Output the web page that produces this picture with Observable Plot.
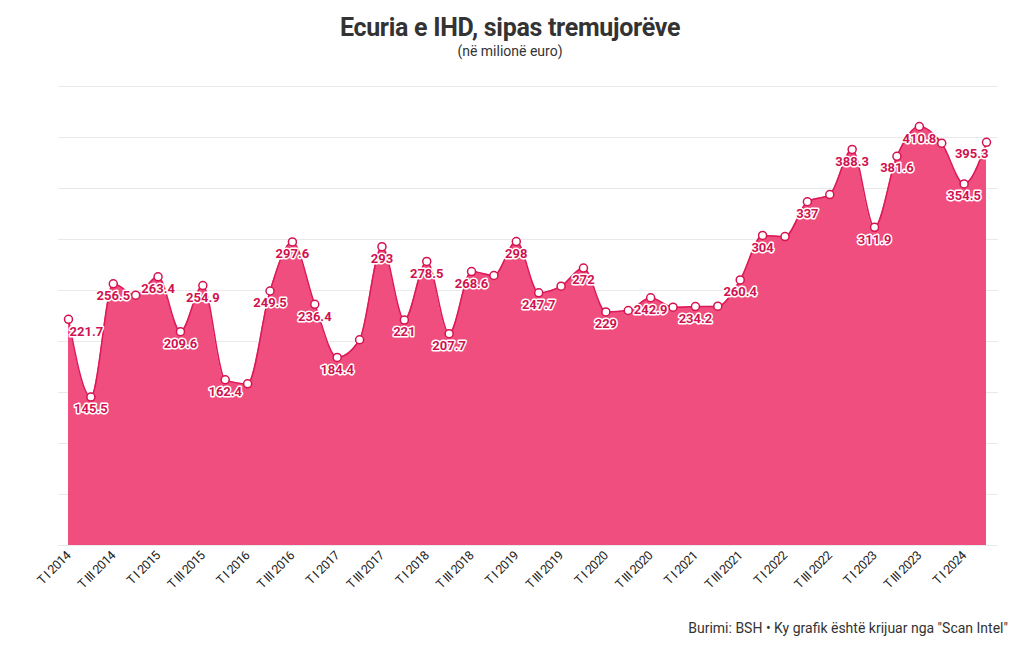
<!DOCTYPE html>
<html><head><meta charset="utf-8">
<script src="https://cdn.jsdelivr.net/npm/d3@7"></script>
<script src="https://cdn.jsdelivr.net/npm/@observablehq/plot@0.6"></script>
<style>
body{margin:0;background:#fff;width:1020px;height:650px;overflow:hidden;font-family:Roboto,sans-serif;color:#333}
#title{font:700 25px Roboto,sans-serif;text-align:center;line-height:28px;padding-top:14px;color:#333;letter-spacing:-0.3px}
#sub{font:400 14px Roboto,sans-serif;text-align:center;line-height:18px;color:#333}
#chart{height:555px}
#cap{font:400 14px Roboto,sans-serif;text-align:right;padding-right:12px;margin-top:5px;color:#333}
</style></head><body>
<div id="title">Ecuria e IHD, sipas tremujorëve</div>
<div id="sub">(në milionë euro)</div>
<div id="chart"></div>
<div id="cap">Burimi: BSH • Ky grafik është krijuar nga "Scan Intel"</div>
<script>
const quarters = [
 "T I 2014","T II 2014","T III 2014","T IV 2014",
 "T I 2015","T II 2015","T III 2015","T IV 2015",
 "T I 2016","T II 2016","T III 2016","T IV 2016",
 "T I 2017","T II 2017","T III 2017","T IV 2017",
 "T I 2018","T II 2018","T III 2018","T IV 2018",
 "T I 2019","T II 2019","T III 2019","T IV 2019",
 "T I 2020","T II 2020","T III 2020","T IV 2020",
 "T I 2021","T II 2021","T III 2021","T IV 2021",
 "T I 2022","T II 2022","T III 2022","T IV 2022",
 "T I 2023","T II 2023","T III 2023","T IV 2023",
 "T I 2024","T II 2024"
];
const values = [
 221.7,145.5,256.5,245.4,
 263.4,209.6,254.9,162.4,
 158.5,249.5,297.6,236.4,
 184.4,201.7,293,221,
 278.5,207.7,268.6,264.7,
 298,247.7,254.2,272,
 229,230.4,242.9,233.6,
 234.2,234.6,260.4,304,
 302.9,337,344.1,388.3,
 311.9,381.6,410.8,394.4,
 354.5,395.3
];
const labels = [
 "221.7","145.5","256.5",null,
 "263.4","209.6","254.9","162.4",
 null,"249.5","297.6","236.4",
 "184.4",null,"293","221",
 "278.5","207.7","268.6",null,
 "298","247.7",null,"272",
 "229",null,"242.9",null,
 "234.2",null,"260.4","304",
 null,"337",null,"388.3",
 "311.9","381.6","410.8",null,
 "354.5","395.3"
];
const tickLabels = [
 "T I 2014","T III 2014","T I 2015","T III 2015","T I 2016","T III 2016",
 "T I 2017","T III 2017","T I 2018","T III 2018","T I 2019","T III 2019",
 "T I 2020","T III 2020","T I 2021","T III 2021","T I 2022","T III 2022",
 "T I 2023","T III 2023","T I 2024"
];
const yGrid = [0,50,100,150,200,250,300,350,400,450];

const data = quarters.map((q,i)=>({q, i, v: values[i], label: labels[i]}));
const labeled = data.filter(d=>d.label!==null);
const lastI = quarters.length-1;
const first = labeled.filter(d=>d.i===0);
const last = labeled.filter(d=>d.i===lastI);
const middle = labeled.filter(d=>d.i!==0 && d.i!==lastI);

const FONT = "Roboto,sans-serif";
const lblColor = "#d0124f";
const textOpts = {x:"i", y:"v", text:"label", dy:12, fill:lblColor, stroke:"white", strokeWidth:3, fontSize:13, fontWeight:"bold", fontFamily:FONT, letterSpacing:"-0.4px"};

const chart = Plot.plot({
  width:1020, height:555,
  marginTop:26, marginBottom:70, marginLeft:58, marginRight:22,
  style:{fontFamily:FONT, background:"white"},
  x:{type:"linear", domain:[0,lastI], range:[68,986],
     ticks:tickLabels.map(t=>quarters.indexOf(t)), tickFormat:i=>quarters[i],
     tickRotate:-45, tickSize:0, tickPadding:8, label:null},
  y:{domain:[0,450], axis:null},
  marks:[
    Plot.ruleY(yGrid, {stroke:"#e9e9e9", strokeWidth:1}),
    Plot.areaY(data, {x:"i", y:"v", fill:"#f04e7e", curve:"monotone-x"}),
    Plot.lineY(data, {x:"i", y:"v", stroke:"#dc1a5a", strokeWidth:1.5, curve:"monotone-x"}),
    Plot.dot(data, {x:"i", y:"v", r:4, fill:"white", stroke:"#d4124f", strokeWidth:1.5}),
    Plot.text(middle, {...textOpts, textAnchor:"middle"}),
    Plot.text(first, {...textOpts, textAnchor:"start", dx:1}),
    Plot.text(last, {...textOpts, textAnchor:"end", dx:2})
  ]
});
const ax = chart.querySelector('[aria-label="x-axis tick label"]');
if (ax) { ax.setAttribute("font-size","12.5"); ax.setAttribute("fill","#222"); ax.setAttribute("letter-spacing","-0.5px"); }
document.getElementById("chart").appendChild(chart);
</script>
</body></html>
